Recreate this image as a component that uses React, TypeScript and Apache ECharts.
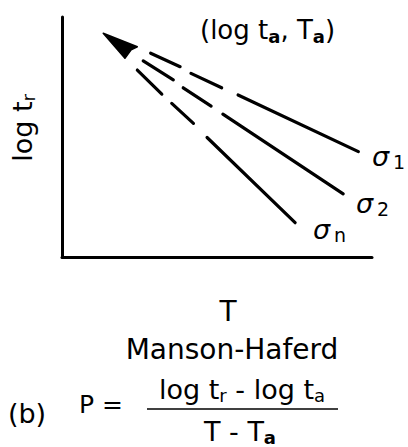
import { useEffect, useRef } from "react";
import * as echarts from "echarts";

// Apex (log ta, Ta) where the iso-stress lines converge, and the arrow pointing at it
const arrowHead: number[][] = [
  [13.3, 93.2],
  [24.3, 87.6],
  [22.3, 86.3],
  [20.3, 82.8],
];

// Each stress line: two dashes near the apex, then a solid run
const sigma1Segments: number[][][] = [
  [[28.6, 84.9], [38.1, 79.3]],
  [[41.6, 76.5], [51.5, 70.5]],
  [[56.8, 67.5], [95.6, 43.9]],
];
const sigma2Segments: number[][][] = [
  [[26.2, 81.7], [35.9, 73.8]],
  [[39.1, 70.5], [48.1, 62.9]],
  [[51.9, 59.5], [90.7, 26.3]],
];
const sigmaNSegments: number[][][] = [
  [[24.3, 77.9], [32.2, 67.9]],
  [[35.4, 64.0], [42.4, 55.7]],
  [[46.8, 49.8], [75.2, 14.3]],
];

const stressNames = ["1", "2", "n"];

const FONT = "DejaVu Sans";

export default function App() {
  const ref = useRef<HTMLDivElement>(null);

  useEffect(() => {
    if (!ref.current) return;
    const chart = echarts.init(ref.current, undefined, { renderer: "svg" });

    const lineSeries = (segs: number[][][]) => ({
      type: "lines",
      coordinateSystem: "cartesian2d",
      polyline: false,
      silent: true,
      lineStyle: { color: "#000", width: 3.2, opacity: 1, cap: "round", curveness: 0 },
      data: segs.map((s) => ({ coords: s })),
    });

    const sub = { fontSize: 18, fontWeight: "bold" as const, verticalAlign: "bottom" as const, lineHeight: 18, fontFamily: FONT };
    const main = (size: number, lh: number) => ({ fontSize: size, lineHeight: lh, fontFamily: FONT });

    const sigmaLabel = (name: string, x: number, y: number) => ({
      type: "text",
      x,
      y,
      style: {
        text: `{g|σ}{s|${name}}`,
        textAlign: "left",
        textVerticalAlign: "middle",
        fill: "#000",
        rich: {
          g: { fontSize: 27, fontStyle: "italic", lineHeight: 30, fontFamily: FONT },
          s: { fontSize: 19, lineHeight: 19, verticalAlign: "bottom", padding: [0, 0, 0, 4], fontFamily: FONT },
        },
      },
    });

    chart.setOption({
      animation: false,
      grid: { left: 62, right: 36, top: 17, bottom: 190 },
      xAxis: {
        type: "value",
        min: 0,
        max: 100,
        axisLine: { show: true, onZero: false, lineStyle: { color: "#000", width: 3 } },
        axisTick: { show: false },
        axisLabel: { show: false },
        splitLine: { show: false },
      },
      yAxis: {
        type: "value",
        min: 0,
        max: 100,
        axisLine: { show: true, onZero: false, lineStyle: { color: "#000", width: 3 } },
        axisTick: { show: false },
        axisLabel: { show: false },
        splitLine: { show: false },
      },
      series: [
        lineSeries(sigma1Segments),
        lineSeries(sigma2Segments),
        lineSeries(sigmaNSegments),
        {
          type: "custom",
          coordinateSystem: "cartesian2d",
          silent: true,
          data: [0],
          renderItem: (_params: any, api: any) => ({
            type: "polygon",
            shape: { points: arrowHead.map((p) => api.coord(p)) },
            style: { fill: "#000", stroke: "#000", lineWidth: 1.5, lineJoin: "round" },
          }),
        },
      ],
      graphic: [
        {
          type: "text",
          x: 200,
          y: 30,
          style: {
            text: "{m|(log t}{s|a}{m|, T}{s|a}{m|)}",
            textAlign: "left",
            textVerticalAlign: "middle",
            fill: "#000",
            rich: { m: main(26, 30), s: sub },
          },
        },
        {
          type: "text",
          x: 22,
          y: 128,
          rotation: Math.PI / 2,
          style: {
            text: "{m|log t}{s|r}",
            textAlign: "center",
            textVerticalAlign: "middle",
            fill: "#000",
            rich: { m: main(27, 30), s: { ...sub, fontWeight: "normal" } },
          },
        },
        sigmaLabel(stressNames[0], 372, 156),
        sigmaLabel(stressNames[1], 356, 203),
        sigmaLabel(stressNames[2], 313, 229),
        {
          type: "text",
          x: 228,
          y: 311,
          style: { text: "T", fontSize: 28, fontFamily: FONT, fill: "#000", textAlign: "center", textVerticalAlign: "middle" },
        },
        {
          type: "text",
          x: 232,
          y: 349,
          style: { text: "Manson-Haferd", fontSize: 28, fontFamily: FONT, fill: "#000", textAlign: "center", textVerticalAlign: "middle" },
        },
        {
          type: "text",
          x: 27,
          y: 413,
          style: { text: "(b)", fontSize: 27, fontFamily: FONT, fill: "#000", textAlign: "center", textVerticalAlign: "middle" },
        },
        {
          type: "text",
          x: 101,
          y: 404,
          style: { text: "P =", fontSize: 25, fontFamily: FONT, fill: "#000", textAlign: "center", textVerticalAlign: "middle" },
        },
        {
          type: "text",
          x: 242,
          y: 389,
          style: {
            text: "{m|log t}{s|r}{m| - log t}{s|a}",
            textAlign: "center",
            textVerticalAlign: "middle",
            fill: "#000",
            rich: { m: main(27, 30), s: { ...sub, fontWeight: "normal" } },
          },
        },
        {
          type: "line",
          shape: { x1: 147, y1: 409, x2: 338, y2: 409 },
          style: { stroke: "#000", lineWidth: 1.5 },
        },
        {
          type: "text",
          x: 240,
          y: 431,
          style: {
            text: "{m|T - T}{s|a}",
            textAlign: "center",
            textVerticalAlign: "middle",
            fill: "#000",
            rich: { m: main(27, 30), s: sub },
          },
        },
      ],
    });

    return () => chart.dispose();
  }, []);

  return (
    <div
      ref={ref}
      style={{ position: "fixed", left: 0, top: 0, width: 408, height: 447, background: "#fff" }}
    />
  );
}
